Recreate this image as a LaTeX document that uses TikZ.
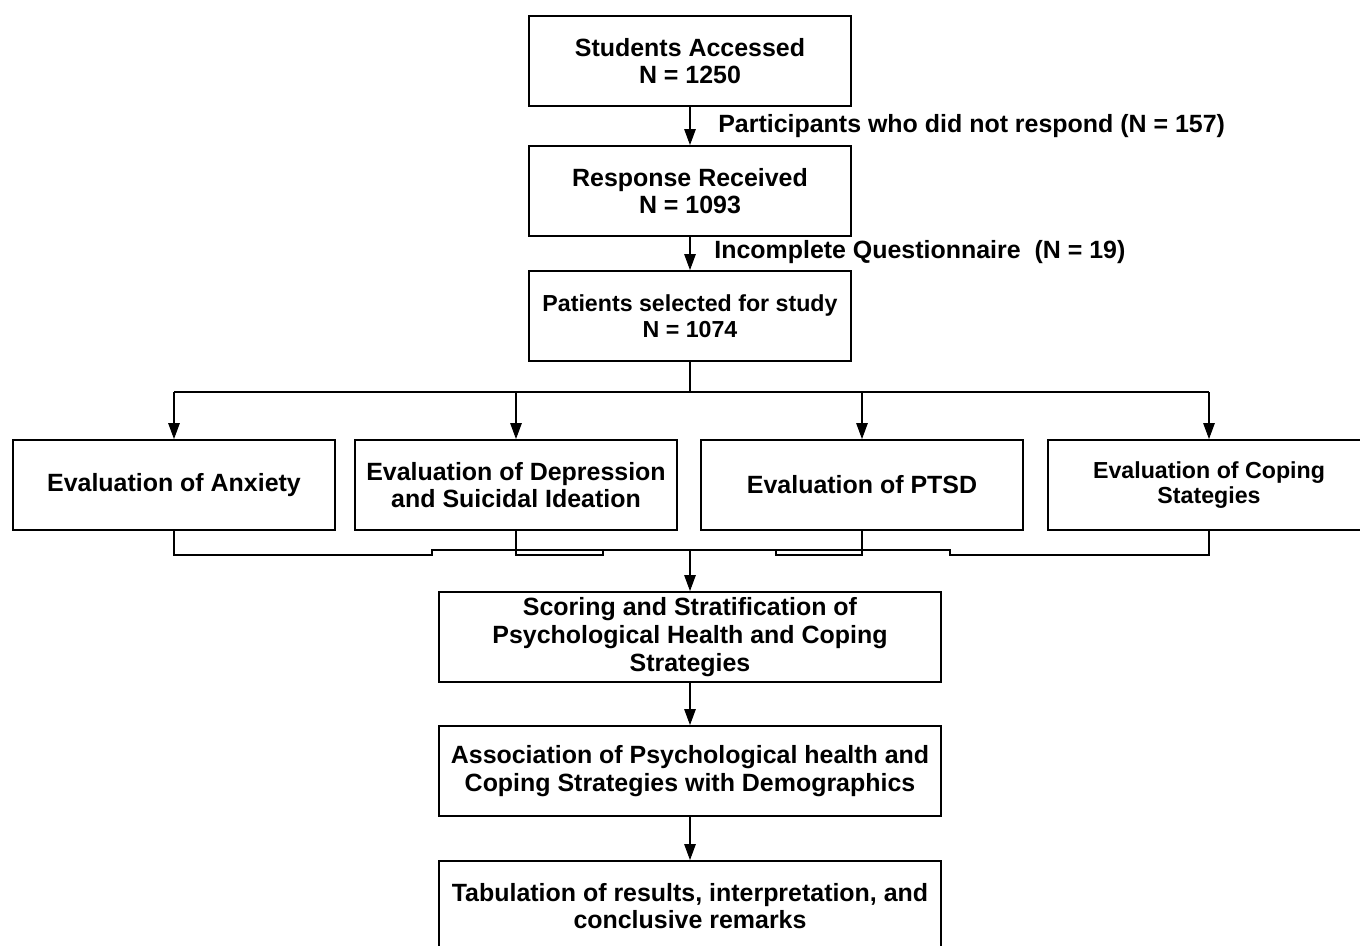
\documentclass[tikz,border=0pt]{standalone}
\usepackage{fontspec}
\setmainfont{Liberation Sans}
\usetikzlibrary{arrows.meta}

\begin{document}
\begin{tikzpicture}[
        x=0.02cm, y=-0.02cm,
        box/.style={rectangle, draw, line width=1.1pt, align=center, minimum width=6.44cm, minimum height=1.8cm, font=\bfseries\fontsize{14.2}{15.8}\selectfont, inner sep=2pt},
        smallbox/.style={box, font=\bfseries\fontsize{13.2}{14.7}\selectfont},
        widebox/.style={box, minimum width=10.04cm},
        note/.style={font=\bfseries\fontsize{14.2}{15.8}\selectfont, anchor=west, inner sep=0pt},
        conn/.style={line width=0.6pt},
        arr/.style={conn, -{Triangle[length=9pt, width=6.5pt]}}
    ]
        \clip (0,0) rectangle (1360,946);
        \fill[white] (0,0) rectangle (1360,946);

        % Top column
        \node[box] (students) at (690,61) {Students Accessed\\N = 1250};
        \node[box] (response) at (690,191) {Response Received\\N = 1093};
        \node[smallbox] (selected) at (690,316) {Patients selected for study\\N = 1074};

        % Exclusion notes
        \node[note] (noreply) at (718,126) {Participants who did not respond (N = 157)};
        \node[note] (incomplete) at (714,252) {Incomplete Questionnaire \ (N = 19)};

        % Evaluation boxes
        \node[box] (anxiety) at (174,485) {Evaluation of Anxiety};
        \node[box] (depression) at (516,485) {Evaluation of Depression\\and Suicidal Ideation};
        \node[box] (ptsd) at (862,485) {Evaluation of PTSD};
        \node[smallbox] (coping) at (1209,485) {Evaluation of Coping\\Stategies};

        % Lower column
        \node[widebox] (scoring) at (690,637) {Scoring and Stratification of\\Psychological Health and Coping\\Strategies};
        \node[widebox] (association) at (690,771) {Association of Psychological health and\\Coping Strategies with Demographics};
        \node[widebox] (tabulation) at (690,906) {Tabulation of results, interpretation, and\\conclusive remarks};

        % Connections
        \draw[arr] (students) -- (response);
        \draw[arr] (response) -- (selected);

        \coordinate (split) at (690,392);
        \draw[conn] (selected) -- (split);
        \draw[conn] (anxiety |- split) -- (coping |- split);
        \foreach \n in {anxiety, depression, ptsd, coping}
            \draw[arr] (\n |- split) -- (\n);

        % Merge lines below the evaluations
        \coordinate (merge) at (690,550);
        \draw[conn] (anxiety.south) -- (174,555) -- (432,555) -- (432,550) -- (950,550) -- (950,555) -- (1209,555) -- (coping.south);
        \draw[conn] (depression.south) -- (516,555) -- (603,555) -- (603,550);
        \draw[conn] (ptsd.south) -- (862,555) -- (776,555) -- (776,550);
        \draw[arr] (merge) -- (scoring);

        \draw[arr] (scoring) -- (association);
        \draw[arr] (association) -- (tabulation);

    \end{tikzpicture}
\end{document}
